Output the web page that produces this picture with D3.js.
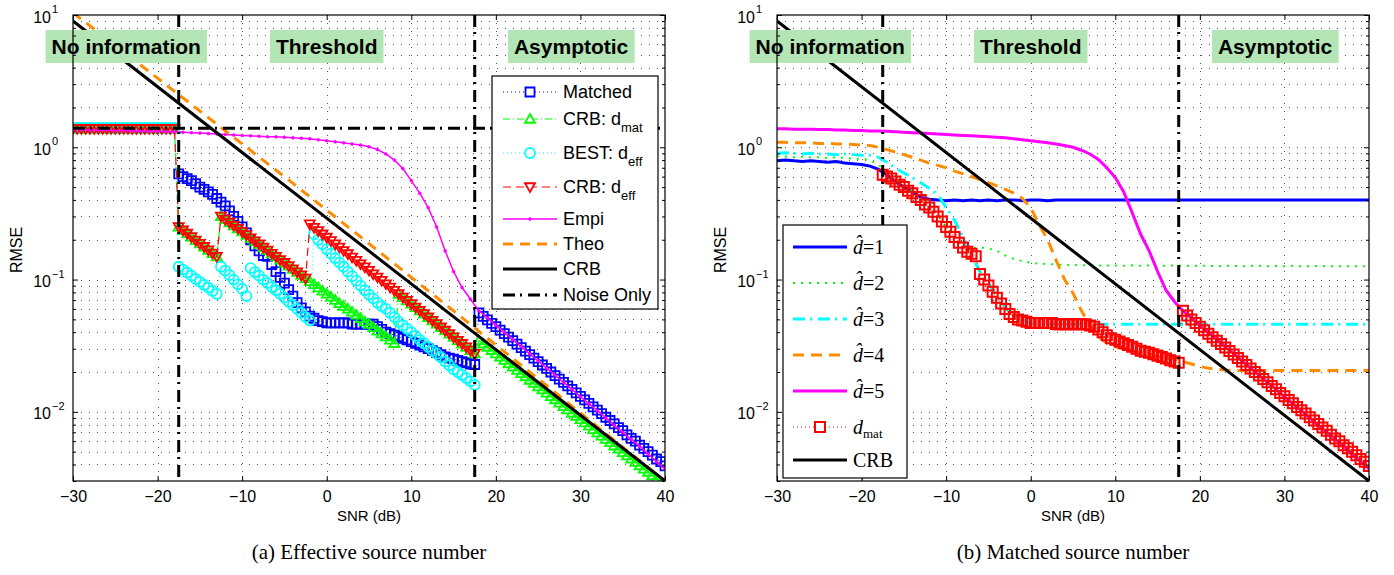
<!DOCTYPE html>
<html lang="en">
<head>
<meta charset="UTF-8">
<title>RMSE vs SNR</title>
<script src="https://cdnjs.cloudflare.com/ajax/libs/d3/7.8.5/d3.min.js"></script>
<style>
  body { margin: 0; background: #fff; }
  svg { display: block; font-family: "Liberation Sans", Arial, sans-serif; }
</style>
</head>
<body>
<svg id="chart" width="1394" height="575"></svg>
<script>
// ---- data ----
// 1 dB grid for the plain curves
var snr = [-30,-29,-28,-27,-26,-25,-24,-23,-22,-21,
           -20,-19,-18,-17,-16,-15,-14,-13,-12,-11,
           -10,-9,-8,-7,-6,-5,-4,-3,-2,-1,
           0,1,2,3,4,5,6,7,8,9,
           10,11,12,13,14,15,16,17,18,19,
           20,21,22,23,24,25,26,27,28,29,
           30,31,32,33,34,35,36,37,38,39,
           40];
// 0.5 dB grid for the curves drawn with markers
var snrFine = [-30,-29.5,-29,-28.5,-28,-27.5,-27,-26.5,-26,-25.5,
               -25,-24.5,-24,-23.5,-23,-22.5,-22,-21.5,-21,-20.5,
               -20,-19.5,-19,-18.5,-18,-17.5,-17,-16.5,-16,-15.5,
               -15,-14.5,-14,-13.5,-13,-12.5,-12,-11.5,-11,-10.5,
               -10,-9.5,-9,-8.5,-8,-7.5,-7,-6.5,-6,-5.5,
               -5,-4.5,-4,-3.5,-3,-2.5,-2,-1.5,-1,-0.5,
               0,0.5,1,1.5,2,2.5,3,3.5,4,4.5,
               5,5.5,6,6.5,7,7.5,8,8.5,9,9.5,
               10,10.5,11,11.5,12,12.5,13,13.5,14,14.5,
               15,15.5,16,16.5,17,17.5,18,18.5,19,19.5,
               20,20.5,21,21.5,22,22.5,23,23.5,24,24.5,
               25,25.5,26,26.5,27,27.5,28,28.5,29,29.5,
               30,30.5,31,31.5,32,32.5,33,33.5,34,34.5,
               35,35.5,36,36.5,37,37.5,38,38.5,39,39.5,
               40];
var xTicks = [-30, -20, -10, 0, 10, 20, 30, 40];
var yDecades = [0.01, 0.1, 1, 10];
var thresholds = [-17.5, 17.5];
var regionNames = ["No information", "Threshold", "Asymptotic"];

// (a) effective source number
var leftNames = ["Matched", "CRB: d|mat", "BEST: d|eff", "CRB: d|eff", "Empi", "Theo", "CRB", "Noise Only"];
var matched = [null,null,null,null,null,null,null,null,null,null,
               null,null,null,null,null,null,null,null,null,null,
               null,null,null,null,null,0.63,0.60,0.58,0.56,0.53,
               0.50,0.48,0.46,0.44,0.41,0.385,0.36,0.33,0.30,0.275,
               0.25,0.225,0.20,0.18,0.165,0.152,0.15,0.13,0.115,0.104,
               0.094,0.084,0.075,0.067,0.061,0.057,0.053,0.051,0.049,0.048,
               0.047,0.047,0.047,0.047,0.047,0.047,0.046,0.046,0.046,0.046,
               0.046,0.046,0.044,0.042,0.040,0.039,0.038,0.037,0.036,0.035,
               0.034,0.033,0.032,0.031,0.030,0.029,0.028,0.027,0.026,0.0255,
               0.025,0.0245,0.024,0.0235,0.023,0.0228,0.056,0.0527,0.0496,0.0467,
               0.0440,0.0414,0.0390,0.0367,0.0345,0.0325,0.0306,0.0288,0.0271,0.0255,
               0.0240,0.0226,0.0213,0.0200,0.0188,0.0177,0.0167,0.0157,0.0148,0.0139,
               0.0131,0.0123,0.0116,0.0109,0.0103,0.0097,0.0091,0.0086,0.0081,0.0076,
               0.0072,0.0067,0.0063,0.0060,0.0056,0.0053,0.0050,0.0047,0.0044,0.0042,
               0.0039];
var crbMat = [1.38,1.38,1.38,1.38,1.38,1.38,1.38,1.38,1.38,1.38,
              1.38,1.38,1.38,1.38,1.38,1.38,1.38,1.38,1.38,1.38,
              1.38,1.38,1.38,1.38,1.38,0.25,0.236,0.223,0.210,0.198,
              0.187,0.177,0.167,0.158,0.149,0.30,0.285,0.270,0.256,0.243,
              0.230,0.218,0.206,0.195,0.185,0.175,0.166,0.157,0.149,0.141,
              0.134,0.127,0.120,0.114,0.108,0.102,0.097,0.092,0.087,0.082,
              0.078,0.074,0.070,0.066,0.063,0.060,0.057,0.054,0.051,0.048,
              0.046,0.0435,0.041,0.039,0.037,0.035,0.033,0.0778,0.0734,0.0693,
              0.0654,0.0617,0.0582,0.0550,0.0519,0.0490,0.0462,0.0436,0.0412,0.0389,
              0.0367,0.0346,0.0327,0.0308,0.0291,0.0275,0.0346,0.0327,0.0309,0.0292,
              0.0275,0.0260,0.0246,0.0232,0.0219,0.0207,0.0195,0.0185,0.0174,0.0165,
              0.0155,0.0147,0.0139,0.0131,0.0124,0.0117,0.0110,0.0104,0.0098,0.0093,
              0.00876,0.00828,0.00782,0.00738,0.00697,0.00658,0.00622,0.00587,0.00554,0.00524,
              0.00494,0.00467,0.00441,0.00416,0.00393,0.00371,0.00351,0.00331,0.00313,0.00295,
              0.00279];
var bestEff = [1.40,1.40,1.40,1.40,1.40,1.40,1.40,1.40,1.40,1.40,
               1.40,1.40,1.40,1.40,1.40,1.40,1.40,1.40,1.40,1.40,
               1.40,1.40,1.40,1.40,1.40,0.125,0.119,0.113,0.107,0.101,
               0.096,0.091,0.087,0.082,0.078,0.125,0.117,0.108,0.100,0.092,
               0.085,0.075,0.122,0.114,0.107,0.100,0.094,0.088,0.083,0.078,
               0.073,0.068,0.064,0.060,0.056,0.052,0.049,0.22,0.20,0.185,
               0.17,0.157,0.145,0.135,0.125,0.115,0.106,0.098,0.090,0.083,
               0.077,0.072,0.067,0.063,0.060,0.056,0.052,0.048,0.045,0.0425,
               0.040,0.0375,0.035,0.033,0.031,0.029,0.0275,0.0258,0.024,0.0225,
               0.021,0.020,0.019,0.018,0.017,0.016,null,null,null,null,
               null,null,null,null,null,null,null,null,null,null,
               null,null,null,null,null,null,null,null,null,null,
               null,null,null,null,null,null,null,null,null,null,
               null,null,null,null,null,null,null,null,null,null,
               null];
var crbEff = [1.38,1.38,1.38,1.38,1.38,1.38,1.38,1.38,1.38,1.38,
              1.38,1.38,1.38,1.38,1.38,1.38,1.38,1.38,1.38,1.38,
              1.38,1.38,1.38,1.38,1.38,0.25,0.236,0.223,0.210,0.198,
              0.187,0.177,0.167,0.158,0.149,0.30,0.285,0.270,0.256,0.243,
              0.230,0.218,0.206,0.195,0.185,0.175,0.166,0.157,0.149,0.141,
              0.134,0.127,0.120,0.114,0.108,0.102,0.262,0.247,0.233,0.220,
              0.208,0.196,0.185,0.175,0.165,0.156,0.147,0.139,0.131,0.124,
              0.117,0.110,0.104,0.098,0.0925,0.0873,0.0824,0.0778,0.0734,0.0693,
              0.0654,0.0617,0.0582,0.0550,0.0519,0.0490,0.0462,0.0436,0.0412,0.0389,
              0.0367,0.0346,0.0327,0.0308,0.0291,0.0275,null,null,null,null,
              null,null,null,null,null,null,null,null,null,null,
              null,null,null,null,null,null,null,null,null,null,
              null,null,null,null,null,null,null,null,null,null,
              null,null,null,null,null,null,null,null,null,null,
              null];
var empi = [1.36,1.36,1.35,1.35,1.35,1.34,1.34,1.33,1.33,1.32,
            1.32,1.31,1.31,1.30,1.29,1.28,1.27,1.26,1.25,1.24,
            1.23,1.22,1.21,1.20,1.20,1.19,1.18,1.17,1.16,1.14,
            1.12,1.10,1.08,1.06,1.04,1.01,0.96,0.89,0.80,0.69,
            0.56,0.45,0.35,0.25,0.165,0.115,0.087,0.071,0.058,0.0512,
            0.0452,0.0399,0.0353,0.0311,0.0275,0.0243,0.0214,0.0189,0.0167,0.0148,
            0.0130,0.0115,0.0102,0.0090,0.0079,0.0070,0.0062,0.0055,0.0048,0.0042,
            0.0037];
var theoSnr = [-30,-25,-20,-15,-10,-5,0,5,10,15,20,25,30,35,40];
var theo = [10.4,5.9,3.33,1.88,1.06,0.60,0.335,0.187,0.104,0.058,0.032,0.0178,0.0098,0.0054,0.003];
var crbSnr = [-30, 40];
var crb = [9.0, 0.003];
var noiseOnly = 1.39;

// (b) matched source number
var rightNames = ["1", "2", "3", "4", "5", "mat", "CRB"];
var dHat1 = [0.79,0.80,0.79,0.78,0.79,0.78,0.77,0.78,0.76,0.75,
             0.74,0.72,0.68,0.62,0.55,0.50,0.46,0.42,0.405,0.40,
             0.395,0.40,0.395,0.40,0.395,0.40,0.395,0.40,0.40,0.395,
             0.40,0.40,0.395,0.40,0.40,0.40,0.40,0.40,0.40,0.40,
             0.40,0.40,0.40,0.40,0.40,0.40,0.40,0.40,0.40,0.40,
             0.40,0.40,0.40,0.40,0.40,0.40,0.40,0.40,0.40,0.40,
             0.40,0.40,0.40,0.40,0.40,0.40,0.40,0.40,0.40,0.40,
             0.40];
var dHat2 = [0.85,0.85,0.84,0.85,0.84,0.84,0.83,0.84,0.83,0.82,
             0.82,0.80,0.74,0.64,0.57,0.51,0.46,0.42,0.37,0.31,
             0.25,0.21,0.185,0.172,0.175,0.172,0.165,0.152,0.143,0.138,
             0.134,0.132,0.131,0.130,0.129,0.129,0.128,0.129,0.128,0.128,
             0.128,0.127,0.128,0.127,0.128,0.127,0.127,0.128,0.127,0.127,
             0.127,0.127,0.126,0.127,0.127,0.126,0.127,0.127,0.126,0.127,
             0.126,0.127,0.126,0.126,0.127,0.126,0.126,0.126,0.126,0.126,
             0.126];
var dHat3 = [0.90,0.91,0.90,0.89,0.90,0.89,0.89,0.88,0.89,0.88,
             0.87,0.87,0.84,0.77,0.70,0.64,0.59,0.54,0.49,0.44,
             0.35,0.28,0.21,0.15,0.115,0.094,0.075,0.061,0.053,0.049,
             0.047,0.046,0.046,0.046,0.046,0.046,0.046,0.046,0.046,0.046,
             0.046,0.046,0.046,0.046,0.046,0.046,0.046,0.046,0.046,0.046,
             0.046,0.046,0.046,0.046,0.046,0.046,0.046,0.046,0.046,0.046,
             0.046,0.046,0.046,0.046,0.046,0.046,0.046,0.046,0.046,0.046,
             0.046];
var dHat4 = [1.09,1.09,1.08,1.08,1.08,1.07,1.07,1.06,1.06,1.05,
             1.04,1.03,1.00,0.96,0.92,0.88,0.84,0.80,0.76,0.73,
             0.70,0.66,0.63,0.60,0.57,0.54,0.51,0.48,0.45,0.41,
             0.35,0.26,0.20,0.14,0.10,0.079,0.058,0.045,0.037,0.033,
             0.031,0.030,0.029,0.028,0.027,0.026,0.0255,0.025,0.024,0.023,
             0.022,0.0214,0.021,0.0207,0.0206,0.0205,0.0205,0.0205,0.0205,0.0205,
             0.0205,0.0205,0.0205,0.0205,0.0205,0.0205,0.0205,0.0205,0.0205,0.0205,
             0.0205];
var dHat5 = [1.38,1.38,1.37,1.37,1.37,1.36,1.36,1.35,1.35,1.34,
             1.34,1.33,1.33,1.32,1.31,1.30,1.29,1.28,1.27,1.26,
             1.25,1.24,1.23,1.22,1.21,1.20,1.19,1.18,1.16,1.14,
             1.12,1.10,1.08,1.06,1.03,1.00,0.95,0.89,0.81,0.70,
             0.59,0.46,0.32,0.22,0.165,0.115,0.083,0.068,0.058,0.0512,
             0.0452,0.0399,0.0353,0.0311,0.0275,0.0243,0.0214,0.0189,0.0167,0.0148,
             0.0130,0.0115,0.0102,0.0090,0.0079,0.0070,0.0062,0.0055,0.0048,0.0042,
             0.0037];
var dMat = [null,null,null,null,null,null,null,null,null,null,
            null,null,null,null,null,null,null,null,null,null,
            null,null,null,null,null,0.62,0.60,0.58,0.55,0.52,
            0.50,0.47,0.45,0.42,0.40,0.37,0.35,0.325,0.30,0.275,
            0.25,0.23,0.21,0.19,0.175,0.162,0.157,0.15,0.11,0.10,
            0.09,0.081,0.073,0.066,0.060,0.055,0.052,0.050,0.049,0.048,
            0.047,0.047,0.047,0.047,0.047,0.047,0.046,0.046,0.046,0.046,
            0.046,0.046,0.046,0.046,0.045,0.044,0.042,0.040,0.038,0.036,
            0.035,0.034,0.033,0.032,0.031,0.030,0.029,0.0285,0.028,0.0273,
            0.0265,0.026,0.0253,0.0245,0.024,0.0235,0.058,0.0535,0.050,0.047,
            0.0440,0.0414,0.0390,0.0367,0.0345,0.0325,0.0306,0.0288,0.0271,0.0255,
            0.0240,0.0226,0.0213,0.0200,0.0188,0.0177,0.0167,0.0157,0.0148,0.0139,
            0.0131,0.0123,0.0116,0.0109,0.0103,0.0097,0.0091,0.0086,0.0081,0.0076,
            0.0072,0.0067,0.0063,0.0060,0.0056,0.0053,0.0050,0.0047,0.0044,0.0042,
            0.0039];

// ---- layout ----
var svg = d3.select("#chart");
var plotTop = 15, plotBottom = 481;
var orange = "#ff8c00";
var dashDot = "12,5,2,6";

function markerPath(type, s) {
  var h = s / 2;
  if (type == "square") return "M" + (-h) + "," + (-h) + "h" + s + "v" + s + "h" + (-s) + "Z";
  if (type == "tri-up") return "M0," + (-h) + "L" + h + "," + (h * 0.75) + "L" + (-h) + "," + (h * 0.75) + "Z";
  if (type == "tri-down") return "M0," + h + "L" + h + "," + (-h * 0.75) + "L" + (-h) + "," + (-h * 0.75) + "Z";
  if (type == "circle" || type == "dot") return "M" + h + ",0A" + h + "," + h + " 0 1,1 " + (-h) + ",0A" + h + "," + h + " 0 1,1 " + h + ",0Z";
  return "";
}

function drawSeries(g, x, y, xs, ys, st) {
  var pts = xs.map(function(s, i) { return [s, ys[i]]; });
  var line = d3.line()
    .defined(function(d) { return d[1] != null; })
    .x(function(d) { return x(d[0]); })
    .y(function(d) { return y(d[1]); });
  g.append("path").datum(pts)
    .attr("d", line)
    .attr("fill", "none")
    .attr("stroke", st.color)
    .attr("stroke-width", st.width)
    .attr("stroke-dasharray", st.dash || null);
  if (st.marker) {
    g.append("g").selectAll("path")
      .data(pts.filter(function(d) { return d[1] != null; }))
      .enter().append("path")
      .attr("transform", function(d) { return "translate(" + x(d[0]) + "," + y(d[1]) + ")"; })
      .attr("d", markerPath(st.marker, st.msize))
      .attr("fill", st.marker == "dot" ? st.color : "none")
      .attr("stroke", st.color)
      .attr("stroke-width", st.mwidth);
  }
}

function drawPanel(p) {
  var x = d3.scaleLinear().domain([-30, 40]).range([p.x0, p.x1]);
  var y = d3.scaleLog().domain([0.003, 10]).range([plotBottom, plotTop]);
  var g = svg.append("g");

  svg.append("clipPath").attr("id", p.id)
    .append("rect").attr("x", p.x0).attr("y", plotTop)
    .attr("width", p.x1 - p.x0).attr("height", plotBottom - plotTop);

  // dotted grid
  var allY = y.ticks();
  var grid = g.append("g").attr("stroke", "#555").attr("stroke-width", 1).attr("stroke-dasharray", "1,7");
  grid.selectAll(".gx").data(xTicks.slice(1, -1)).enter().append("line")
    .attr("x1", function(d) { return Math.round(x(d)) + 0.5; })
    .attr("x2", function(d) { return Math.round(x(d)) + 0.5; })
    .attr("y1", plotTop).attr("y2", plotBottom);
  grid.selectAll(".gy").data(allY.filter(function(d) { return d > 0.0031 && d < 9.9; })).enter().append("line")
    .attr("y1", function(d) { return Math.round(y(d)) + 0.5; })
    .attr("y2", function(d) { return Math.round(y(d)) + 0.5; })
    .attr("x1", p.x0).attr("x2", p.x1);

  var plot = g.append("g").attr("clip-path", "url(#" + p.id + ")");
  p.series.forEach(function(s) { drawSeries(plot, x, y, s.xs, s.ys, s); });

  if (p.noise != null) {
    plot.append("line")
      .attr("x1", p.x0).attr("x2", p.x1)
      .attr("y1", y(p.noise)).attr("y2", y(p.noise))
      .attr("stroke", "#000").attr("stroke-width", 3).attr("stroke-dasharray", dashDot);
  }
  thresholds.forEach(function(t) {
    plot.append("line")
      .attr("x1", x(t)).attr("x2", x(t))
      .attr("y1", plotTop).attr("y2", plotBottom)
      .attr("stroke", "#000").attr("stroke-width", 3).attr("stroke-dasharray", dashDot);
  });

  // region labels
  var regionAt = [-23.7, 0, 28.9];
  regionNames.forEach(function(name, i) {
    var lab = g.append("g");
    var t = lab.append("text")
      .attr("x", x(regionAt[i])).attr("y", 54)
      .attr("text-anchor", "middle")
      .attr("font-size", 21).attr("font-weight", "bold")
      .text(name);
    var bb = t.node().getBBox();
    lab.insert("rect", "text")
      .attr("x", bb.x - 6).attr("y", 30)
      .attr("width", bb.width + 12).attr("height", 33)
      .attr("fill", "#b4e5b4");
  });

  // axes (MATLAB style, ticks inside)
  var ax = g.append("g");
  ax.append("g").attr("transform", "translate(0," + plotBottom + ")")
    .call(d3.axisBottom(x).tickValues(xTicks).tickSizeInner(-5).tickSizeOuter(0).tickPadding(10))
    .call(function(s) {
      s.attr("font-family", null).attr("font-size", null);
      s.selectAll("text").attr("font-size", 16).attr("fill", "#000");
    });
  ax.append("g").attr("transform", "translate(0," + plotTop + ")")
    .call(d3.axisTop(x).tickValues(xTicks).tickSizeInner(-5).tickSizeOuter(0).tickFormat(""));
  var minors = allY.filter(function(d) { return yDecades.indexOf(d) < 0; });
  ax.append("g").attr("transform", "translate(" + p.x0 + ",0)")
    .call(d3.axisLeft(y).tickValues(yDecades).tickSizeInner(-5).tickSizeOuter(0).tickFormat(""));
  ax.append("g").attr("transform", "translate(" + p.x0 + ",0)")
    .call(d3.axisLeft(y).tickValues(minors).tickSizeInner(-3).tickSizeOuter(0).tickFormat(""));
  ax.append("g").attr("transform", "translate(" + p.x1 + ",0)")
    .call(d3.axisRight(y).tickValues(yDecades).tickSizeInner(-5).tickSizeOuter(0).tickFormat(""));
  ax.append("g").attr("transform", "translate(" + p.x1 + ",0)")
    .call(d3.axisRight(y).tickValues(minors).tickSizeInner(-3).tickSizeOuter(0).tickFormat(""));
  ax.selectAll(".domain").remove();
  ax.selectAll(".tick line").attr("stroke", "#000");

  yDecades.forEach(function(d) {
    var e = Math.round(Math.log10(d));
    g.append("text").attr("x", p.x0 - 22).attr("y", y(d) + 7.5)
      .attr("text-anchor", "end").attr("font-size", 16).text("10");
    g.append("text").attr("x", p.x0 - 21).attr("y", y(d) - 2)
      .attr("font-size", 11).text(String(e).replace("-", "\u2212"));
  });

  g.append("rect").attr("x", p.x0).attr("y", plotTop)
    .attr("width", p.x1 - p.x0).attr("height", plotBottom - plotTop)
    .attr("fill", "none").attr("stroke", "#000").attr("stroke-width", 1.2);

  g.append("text").attr("x", (p.x0 + p.x1) / 2).attr("y", 521)
    .attr("text-anchor", "middle").attr("font-size", 15).text("SNR (dB)");
  g.append("text")
    .attr("transform", "translate(" + (p.x0 - 51) + "," + ((plotTop + plotBottom) / 2 + 2) + ") rotate(-90)")
    .attr("text-anchor", "middle").attr("font-size", 16).text("RMSE");
  g.append("text").attr("x", (p.x0 + p.x1) / 2).attr("y", 559)
    .attr("text-anchor", "middle").attr("font-size", 21)
    .attr("font-family", "Liberation Serif, Times New Roman, serif")
    .text(p.caption);

  return g;
}

function legendSample(g, st, x0, x1, yy) {
  g.append("line").attr("x1", x0).attr("x2", x1).attr("y1", yy).attr("y2", yy)
    .attr("stroke", st.color).attr("stroke-width", st.width)
    .attr("stroke-dasharray", st.dash || null);
  if (st.marker) {
    g.append("path").attr("transform", "translate(" + ((x0 + x1) / 2) + "," + yy + ")")
      .attr("d", markerPath(st.marker, st.msize))
      .attr("fill", st.marker == "dot" ? st.color : "#fff")
      .attr("stroke", st.color).attr("stroke-width", st.mwidth);
  }
}

// ---- panel (a) ----
var leftStyles = [
  {xs: snrFine, ys: matched, color: "#0000ff", width: 1, dash: "1,3", marker: "square", msize: 9, mwidth: 1.8},
  {xs: snrFine, ys: crbMat, color: "#00ff00", width: 1.2, dash: "7,3,1,3", marker: "tri-up", msize: 10, mwidth: 1.8},
  {xs: snrFine, ys: bestEff, color: "#00ffff", width: 1, dash: "1,3", marker: "circle", msize: 10, mwidth: 1.8},
  {xs: snrFine, ys: crbEff, color: "#ff0000", width: 1.2, dash: "8,5", marker: "tri-down", msize: 10, mwidth: 1.8},
  {xs: snr, ys: empi, color: "#ff00ff", width: 1.5, marker: "dot", msize: 3, mwidth: 0.5},
  {xs: theoSnr, ys: theo, color: orange, width: 3, dash: "10,7"},
  {xs: crbSnr, ys: crb, color: "#000", width: 3}
];
var pa = drawPanel({id: "clipA", x0: 73, x1: 665, series: leftStyles, noise: noiseOnly,
  caption: "(a) Effective source number"});

var legA = pa.append("g");
legA.append("rect").attr("x", 492).attr("y", 76).attr("width", 166).attr("height", 233)
  .attr("fill", "#fff").attr("stroke", "#000").attr("stroke-width", 1.2);
var legAY = [92, 119, 153, 187, 219, 244, 269, 295];
var legAStyles = leftStyles.concat([{color: "#000", width: 3, dash: dashDot}]);
leftNames.forEach(function(name, i) {
  legendSample(legA, legAStyles[i], 503, 557, legAY[i]);
  var parts = name.split("|");
  var t = legA.append("text").attr("x", 563).attr("y", legAY[i] + 6).attr("font-size", 18).text(parts[0]);
  if (parts[1]) t.append("tspan").attr("dy", 7).attr("font-size", 13).text(parts[1]);
});

// ---- panel (b) ----
var rightStyles = [
  {xs: snr, ys: dHat1, color: "#0000ff", width: 3},
  {xs: snr, ys: dHat2, color: "#00ff00", width: 2, dash: "2,6"},
  {xs: snr, ys: dHat3, color: "#00ffff", width: 3, dash: dashDot},
  {xs: snr, ys: dHat4, color: orange, width: 3, dash: "11,7"},
  {xs: snr, ys: dHat5, color: "#ff00ff", width: 3},
  {xs: snrFine, ys: dMat, color: "#ff0000", width: 1, dash: "1,3", marker: "square", msize: 10, mwidth: 2},
  {xs: crbSnr, ys: crb, color: "#000", width: 3}
];
var pb = drawPanel({id: "clipB", x0: 777, x1: 1369, series: rightStyles, noise: null,
  caption: "(b) Matched source number"});

var legB = pb.append("g");
legB.append("rect").attr("x", 783).attr("y", 225).attr("width", 124).attr("height", 253)
  .attr("fill", "#fff").attr("stroke", "#000").attr("stroke-width", 1.2);
var legBY = [247, 283, 319, 355, 391, 427, 460];
rightNames.forEach(function(name, i) {
  legendSample(legB, rightStyles[i], 793, 847, legBY[i]);
  var t = legB.append("text").attr("x", 853).attr("y", legBY[i] + 7)
    .attr("font-family", "Liberation Serif, Times New Roman, serif").attr("font-size", 20);
  if (name == "CRB") {
    t.text("CRB");
  } else if (name == "mat") {
    t.append("tspan").attr("font-style", "italic").text("d");
    t.append("tspan").attr("dy", 4).attr("font-size", 13).text("mat");
  } else {
    t.append("tspan").attr("font-style", "italic").text("d\u0302");
    t.append("tspan").text("=" + name);
  }
});
</script>
</body>
</html>
